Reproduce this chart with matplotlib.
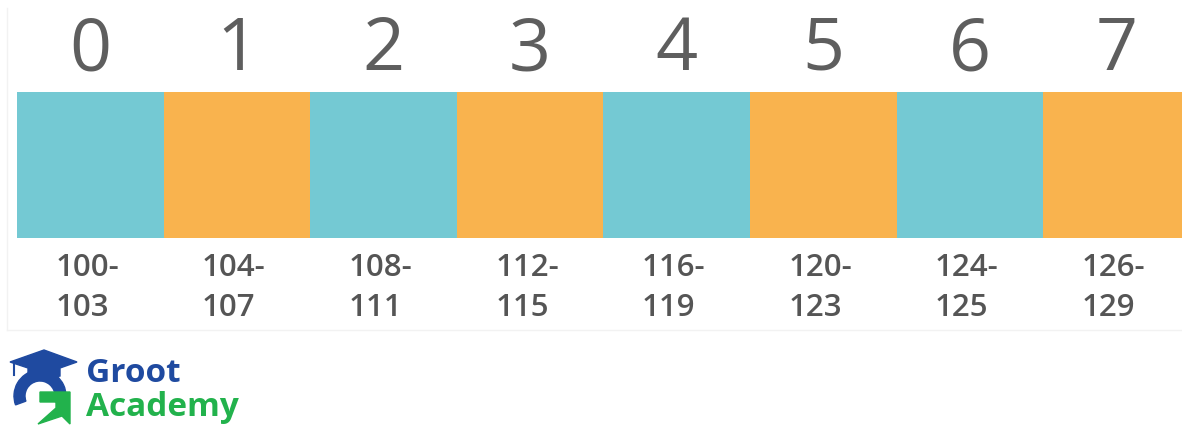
import matplotlib
matplotlib.use("Agg")
import matplotlib.pyplot as plt
from matplotlib.patches import Polygon, Wedge

indices = ["0", "1", "2", "3", "4", "5", "6", "7"]
range_starts = ["100", "104", "108", "112", "116", "120", "124", "126"]
range_ends = ["103", "107", "111", "115", "119", "123", "125", "129"]
cell_colors = ["#74c9d3", "#f9b34e"] * 4

W, H = 1182, 425
cell_px = 146.6
x0_px = 17

fig = plt.figure(figsize=(W / 100, H / 100), dpi=100)
ax = fig.add_axes([0, 0, 1, 1])
ax.set_xlim(-x0_px / cell_px, (W - x0_px) / cell_px)
ax.set_ylim(H, 0)
ax.axis("off")

# faint frame
ax.plot([-10 / cell_px, -10 / cell_px], [8, 330], color="#f2f2f2", lw=1)
ax.plot([-10 / cell_px, 9], [330, 330], color="#f2f2f2", lw=1)

pos = [i + 0.5 for i in range(len(indices))]
ax.bar(pos, 146, bottom=92, width=1.0, color=cell_colors, linewidth=0)

for p, lab in zip(pos, indices):
    ax.text(p, 51, lab, ha="center", va="center", fontsize=53,
            family="Open Sans", fontweight="normal", color="#5e5e5e")

for p, s, e in zip(pos, range_starts, range_ends):
    ax.text(p - 0.02, 288, f"{s}-\n{e}", ha="center", va="center",
            multialignment="left", fontsize=22.5, family="Open Sans",
            fontweight="semibold", color="#555555", linespacing=1.42)

# logo in its own pixel-space axes
blue = "#1f4aa0"
green = "#22b24c"
lax = fig.add_axes([0, 0, 260 / W, 80 / H])
lax.set_xlim(0, 260)
lax.set_ylim(425, 345)
lax.axis("off")
# cap
lax.add_patch(Polygon([(10, 362), (44, 350), (77, 362), (60, 368), (60, 376),
                       (44, 380), (28, 376), (28, 368)], closed=True, color=blue))
lax.plot([14, 14], [362, 375], color=blue, lw=1.5)
# G ring
lax.add_patch(Wedge((40, 396), 26, 160, 360, width=11, color=blue))
lax.add_patch(Wedge((40, 396), 26, 0, 20, width=11, color=blue))
# green arrow
lax.add_patch(Polygon([(40, 392), (70, 392), (70, 424), (62, 416), (38, 424),
                       (56, 408), (56, 402), (40, 402)], closed=True, color=green))

lax.text(86, 374, "Groot", ha="left", va="center", fontsize=24,
         family="Open Sans", fontweight="bold", color=blue)
lax.text(86, 408, "Academy", ha="left", va="center", fontsize=24,
         family="Open Sans", fontweight="bold", color=green)

fig.savefig("out.png", dpi=100)
